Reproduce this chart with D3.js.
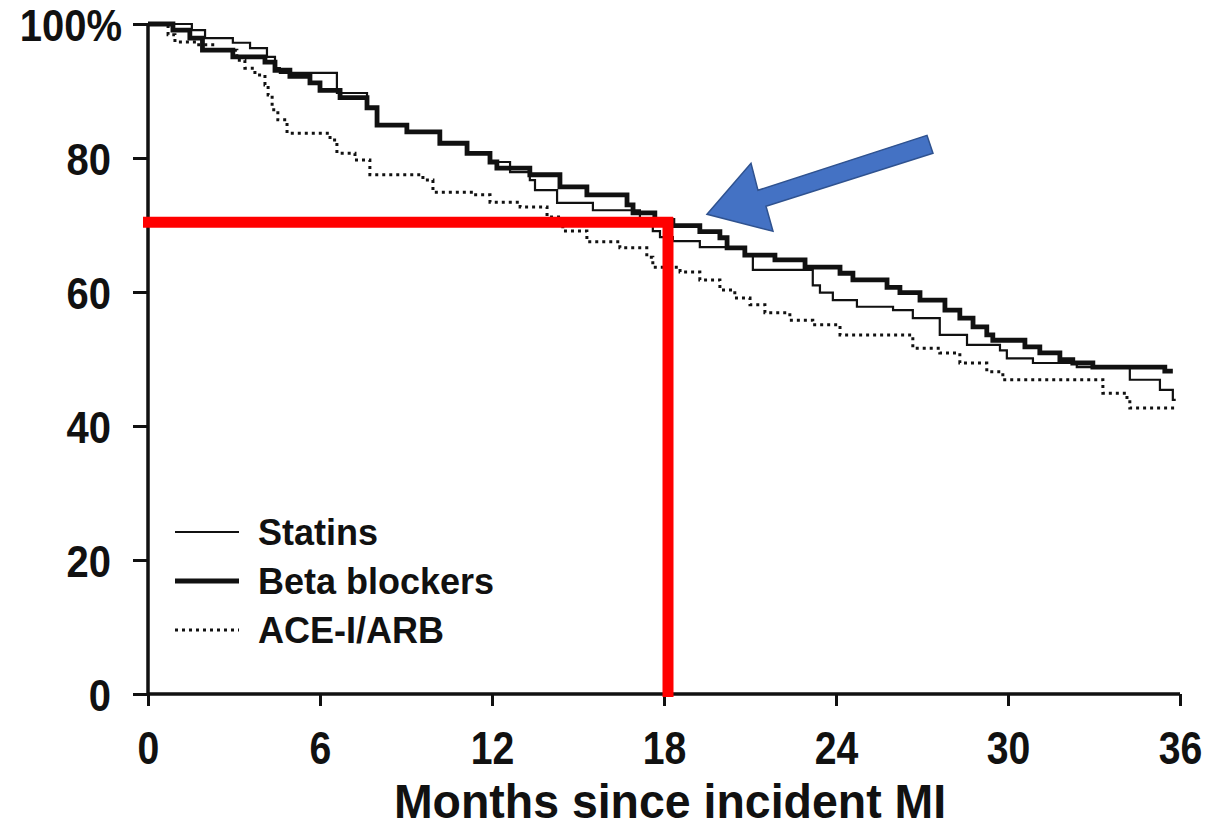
<!DOCTYPE html>
<html><head><meta charset="utf-8">
<script src="https://cdn.jsdelivr.net/npm/d3@7"></script>
<style>body{margin:0;background:#fff}svg{display:block}text{font-family:"Liberation Sans",Arial,sans-serif;font-weight:bold;fill:#111}</style>
</head><body>
<svg id="c" width="1209" height="830"></svg>
<script>
// Data: [month, survival %] step points
const statins = [[0,100],[1.53,99.1],[1.99,97.9],[2.96,97.2],[3.56,96.4],[4.15,95.1],[4.43,93.4],[4.6,92.7],[6.59,89.7],[7.64,87.5],[7.99,84.9],[9.03,83.9],[10.18,82.2],[11.13,80.7],[11.93,79.4],[12.63,77.9],[13.32,76.7],[13.5,75.2],[14.27,73.3],[15.52,72.2],[17.16,70.4],[17.61,69.1],[17.86,68.2],[18.31,67.6],[19.25,66.7],[20.82,65.4],[21.1,63.3],[23.19,61.0],[23.44,59.9],[23.89,58.8],[24.73,57.8],[25.99,57.3],[26.68,56.1],[27.62,53.6],[28.57,52.1],[29.72,51.3],[29.96,50.1],[30.87,49.4],[32.4,48.8],[34.25,46.9],[35.3,45.4],[35.75,43.9],[35.85,43.9]];
const betaBlockers = [[0,100],[0.87,99.1],[1.46,97.9],[1.9,96.1],[2.96,95.1],[4.08,94.3],[4.43,93.1],[4.95,92.2],[5.65,91.2],[6.0,90.1],[6.7,89.0],[7.64,87.5],[7.99,84.9],[9.03,83.9],[10.18,82.2],[11.13,80.7],[11.93,79.4],[12.17,78.5],[13.32,77.5],[14.37,75.7],[15.31,74.5],[16.71,73.0],[16.92,71.8],[17.68,70.7],[18.31,69.9],[19.25,69.0],[19.95,68.1],[20.2,66.6],[20.82,65.5],[21.87,64.8],[22.92,63.7],[24.14,62.8],[24.59,61.8],[25.78,60.7],[26.23,59.9],[26.93,58.8],[27.8,57.3],[28.32,56.1],[28.78,54.8],[29.26,53.6],[29.47,52.8],[30.59,51.8],[31.11,50.9],[31.81,49.9],[32.26,49.4],[32.96,48.8],[35.47,48.2],[35.75,48.2]];
const aceArb = [[0,100],[0.7,98.4],[0.94,97.3],[1.71,96.9],[2.34,96.1],[3.1,94.6],[3.38,93.4],[3.73,92.4],[4.08,90.9],[4.19,89.4],[4.33,87.2],[4.53,85.7],[4.85,83.7],[6.35,82.7],[6.59,80.7],[7.22,79.7],[7.74,77.5],[9.59,76.7],[9.94,74.9],[11.34,74.5],[11.93,73.4],[12.98,72.7],[13.92,71.2],[14.47,69.1],[15.31,67.5],[16.46,66.6],[17.4,65.2],[17.61,63.7],[18.56,63.0],[19.25,61.8],[19.95,60.3],[20.47,59.1],[21.0,58.1],[21.52,56.9],[22.39,55.8],[23.19,55.1],[24.14,53.6],[26.68,51.6],[27.62,50.9],[28.32,49.4],[29.26,48.1],[29.82,46.9],[33.31,44.9],[34.15,43.9],[34.25,42.7],[35.85,42.7]];
const seriesNames = ["Statins","Beta blockers","ACE-I/ARB"];
const xTicks = [0,6,12,18,24,30,36];
const yTicks = [0,20,40,60,80,100];
const xTitle = "Months since incident MI";
const markMonth = 18, markPct = 70.4;

const svg = d3.select("#c");
const x = d3.scaleLinear().domain([0,36]).range([148,1180]);
const y = d3.scaleLinear().domain([0,100]).range([694,24]);

// axes
const xa = svg.append("g").attr("transform","translate(0,694)")
  .call(d3.axisBottom(x).tickValues(xTicks).tickSize(12));
const ya = svg.append("g").attr("transform","translate(148,0)")
  .call(d3.axisLeft(y).tickValues(yTicks).tickSize(15).tickFormat(d=>d===100?"100%":d));
[xa,ya].forEach(g=>{
  g.select(".domain").attr("stroke","#111").attr("stroke-width",3.5);
  g.selectAll(".tick line").attr("stroke","#111").attr("stroke-width",3);
  g.selectAll(".tick text").attr("font-size",40).attr("font-family","Liberation Sans, Arial").attr("font-weight","bold").attr("fill","#111")
    .attr("x",0).attr("y",0).attr("dy",null);
});
ya.select(".domain").attr("d","M0,"+y(0)+"V"+y(100));
xa.select(".domain").attr("d","M"+x(0)+",0H"+x(36));
xa.selectAll(".tick text").attr("transform","translate(0,70) scale(0.98,1.15)");
ya.selectAll(".tick text").attr("transform",d=>"translate("+(d===100?-26:-37)+",16) scale(1,1.12)");

svg.append("text").attr("text-anchor","middle").attr("font-size",46)
  .attr("transform","translate(670,818) scale(1.01,1.04)").text(xTitle);

const line = d3.line().x(d=>x(d[0])).y(d=>y(d[1])).curve(d3.curveStepAfter);
const styles = [
  {data:statins,w:2.2,dash:null},
  {data:betaBlockers,w:4.8,dash:null},
  {data:aceArb,w:3,dash:"3,4"}
];
styles.slice().reverse().forEach(s=>{
  svg.append("path").attr("d",line(s.data)).attr("fill","none").attr("stroke","#111")
    .attr("stroke-width",s.w).attr("stroke-dasharray",s.dash);
});

// legend
const ly = [532,581,630];
seriesNames.forEach((n,i)=>{
  svg.append("line").attr("x1",175).attr("x2",239).attr("y1",ly[i]).attr("y2",ly[i])
    .attr("stroke","#111").attr("stroke-width",styles[i].w).attr("stroke-dasharray",styles[i].dash);
  svg.append("text").attr("x",258).attr("y",ly[i]+13).attr("font-size",36).text(n);
});

// red annotation lines
svg.append("line").attr("x1",143).attr("x2",x(markMonth)+9).attr("y1",y(markPct)).attr("y2",y(markPct))
  .attr("stroke","#ff0000").attr("stroke-width",11);
svg.append("line").attr("x1",x(markMonth)+4).attr("x2",x(markMonth)+4).attr("y1",y(markPct)-5).attr("y2",y(0)+3)
  .attr("stroke","#ff0000").attr("stroke-width",11);

// blue arrow
const tipX = x(markMonth)+43, tipY = y(markPct)-8;
const arrow = [[0,0],[44,-51],[51,-24],[220,-79],[226,-61],[59,-8],[66,17]];
svg.append("polygon").attr("points",arrow.map(p=>[tipX+p[0],tipY+p[1]].join(",")).join(" "))
  .attr("fill","#4472c4").attr("stroke","#2f528f").attr("stroke-width",1.5);
</script>
</body></html>
